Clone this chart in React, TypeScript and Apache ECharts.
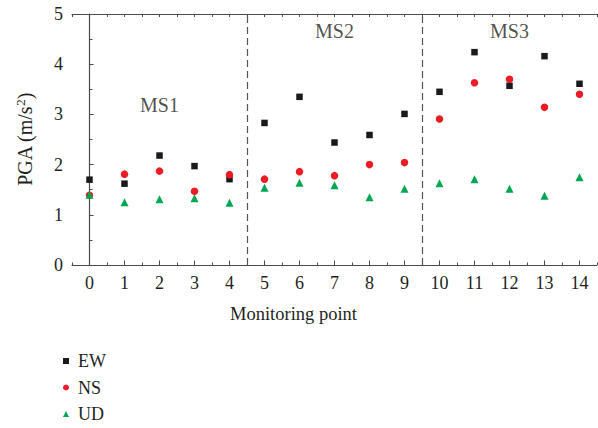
import React, { useEffect, useRef } from "react";
import * as echarts from "echarts";

const categories = ["0","1","2","3","4","5","6","7","8","9","10","11","12","13","14"];
const ewValues = [1.70,1.62,2.18,1.97,1.71,2.83,3.35,2.44,2.59,3.01,3.45,4.24,3.57,4.16,3.61];
const nsValues = [1.39,1.81,1.87,1.47,1.80,1.71,1.86,1.78,2.00,2.04,2.91,3.63,3.70,3.14,3.40];
const udValues = [1.40,1.25,1.31,1.33,1.24,1.54,1.64,1.59,1.35,1.52,1.63,1.71,1.52,1.38,1.75];
const groupLabels = ["MS1","MS2","MS3"];
const groupLabelX = [2, 7, 12];
const groupLabelY = [3.19, 4.66, 4.66];
const dividers = [4.5, 9.5];

const FONT = "'Liberation Serif', 'Times New Roman', serif";
const AXIS = "#4a4a4a";
const TEXT = "#231f20";

export default function App() {
  const ref = useRef<HTMLDivElement>(null);
  useEffect(() => {
    if (!ref.current) return;
    const chart = echarts.init(ref.current, undefined, { renderer: "svg" });
    const toPts = (arr: number[]) => arr.map((v, i) => [i, v]);
    chart.setOption({
      animation: false,
      backgroundColor: "#ffffff",
      textStyle: { fontFamily: FONT, color: TEXT },
      grid: { left: 72, top: 14, right: 1, bottom: 163, containLabel: false },
      legend: {
        orient: "vertical",
        left: 63,
        top: 352,
        height: 90,
        padding: 0,
        itemWidth: 6,
        itemHeight: 6,
        itemGap: 8.5,
        data: ["EW", "NS", "UD"],
        textStyle: { fontFamily: FONT, fontSize: 18, color: TEXT, lineHeight: 18, padding: [0, 0, 0, 4] },
      },
      xAxis: [
        {
          type: "value",
          position: "bottom",
          min: -0.5,
          max: 14.5,
          interval: 0.5,
          axisLine: { show: true, lineStyle: { color: AXIS, width: 1.2 } },
          axisTick: { show: true, inside: true, length: 2.5, lineStyle: { color: AXIS } },
          axisLabel: { show: false },
          splitLine: { show: false },
        },
        {
          type: "category",
          position: "bottom",
          data: categories,
          boundaryGap: true,
          axisLine: { show: false },
          axisTick: { show: true, inside: true, alignWithLabel: true, length: 4.5, lineStyle: { color: AXIS } },
          axisLabel: { show: true, fontFamily: FONT, fontSize: 18, color: TEXT, margin: 9 },
          name: "Monitoring point",
          nameLocation: "middle",
          nameGap: 39,
          nameTextStyle: { fontFamily: FONT, fontSize: 18.5, color: TEXT, padding: [0, 82, 0, 0] },
        },
        {
          type: "value",
          position: "top",
          min: -0.5,
          max: 14.5,
          interval: 0.5,
          axisLine: { show: true, lineStyle: { color: AXIS, width: 1.2 } },
          axisTick: { show: true, inside: true, length: 3, lineStyle: { color: AXIS } },
          axisLabel: { show: false },
          splitLine: { show: false },
        },
      ],
      yAxis: [
        {
          type: "value",
          min: 0,
          max: 5,
          interval: 1,
          axisLine: { show: true, lineStyle: { color: AXIS, width: 1.2 } },
          axisTick: { show: true, inside: true, length: 4, lineStyle: { color: AXIS } },
          minorTick: { show: true, splitNumber: 2, length: 3, lineStyle: { color: AXIS } },
          axisLabel: { fontFamily: FONT, fontSize: 18, color: TEXT, margin: 9 },
          splitLine: { show: false },
          name: "PGA (m/s{sup|2})",
          nameLocation: "middle",
          nameRotate: 90,
          nameGap: 36,
          nameTextStyle: {
            fontFamily: FONT,
            fontSize: 20,
            color: TEXT,
            rich: { sup: { fontFamily: FONT, fontSize: 13, color: TEXT, verticalAlign: "top", padding: [0, 0, 9, 0] } },
          },
        },
      ],
      series: [
        {
          name: "EW",
          type: "scatter",
          xAxisIndex: 0,
          symbol: "rect",
          symbolSize: 6.5,
          itemStyle: { color: "#1a1a1a", opacity: 1 },
          data: toPts(ewValues),
          markLine: {
            silent: true,
            symbol: "none",
            label: { show: false },
            lineStyle: { color: "#555555", type: [7, 4], width: 1.2, opacity: 1 },
            data: dividers.map((d) => ({ xAxis: d })),
          },
        },
        {
          name: "NS",
          type: "scatter",
          xAxisIndex: 0,
          symbol: "circle",
          symbolSize: 7.5,
          itemStyle: { color: "#ec1c24", opacity: 1 },
          data: toPts(nsValues),
        },
        {
          name: "UD",
          type: "scatter",
          xAxisIndex: 0,
          symbol: "triangle",
          symbolSize: 8,
          itemStyle: { color: "#00a651", opacity: 1 },
          data: toPts(udValues),
        },
        {
          name: "labels",
          type: "scatter",
          xAxisIndex: 0,
          symbolSize: 0,
          silent: true,
          label: {
            show: true,
            position: "inside",
            formatter: (p: any) => p.data.name,
            fontFamily: FONT,
            fontSize: 20,
            color: TEXT,
          },
          data: groupLabels.map((n, i) => ({ name: n, value: [groupLabelX[i], groupLabelY[i]] })),
        },
      ],
    });
    return () => chart.dispose();
  }, []);
  return (
    <div
      ref={ref}
      style={{ position: "fixed", left: 0, top: 0, width: 598, height: 428, background: "#fff" }}
    />
  );
}
